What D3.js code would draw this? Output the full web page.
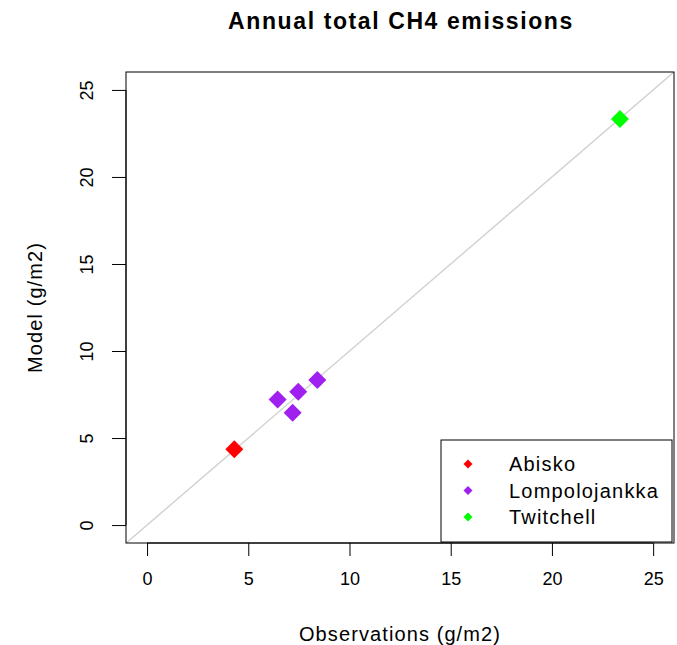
<!DOCTYPE html>
<html>
<head>
<meta charset="utf-8">
<script src="https://cdn.jsdelivr.net/npm/d3@7"></script>
<style>
  body { margin: 0; background: #fff; }
  text { font-family: "Liberation Sans", Arial, sans-serif; fill: #000; }
</style>
</head>
<body>
<div id="chart-holder"></div>
<script>
// site names and colours
var sites = ["Abisko", "Lompolojankka", "Twitchell"];
var siteColors = ["#ff0000", "#a020f0", "#00ff00"];

// annual totals (g/m2): observations vs model, one entry per site-year
var pointSite = ["Abisko", "Lompolojankka", "Lompolojankka", "Lompolojankka", "Lompolojankka", "Twitchell"];
var observed = [4.31, 6.45, 7.47, 8.41, 7.19, 23.36];
var modelled = [4.35, 7.22, 7.66, 8.33, 6.45, 23.33];

var tickValues = [0, 5, 10, 15, 20, 25];

var width = 677, height = 645;
var plotLeft = 126, plotRight = 674, plotTop = 72, plotBottom = 543;

var svg = d3.select("#chart-holder")
  .append("svg")
  .attr('width', width)
  .attr('height', height);

var x = d3.scaleLinear().domain([-1.04, 26.03]).range([plotLeft, plotRight]);
var y = d3.scaleLinear().domain([-1.03, 26.03]).range([plotBottom, plotTop]);
var color = d3.scaleOrdinal().domain(sites).range(siteColors);

// clip for the 1:1 line
svg.append("clipPath").attr("id", "plot-clip")
  .append("rect")
  .attr("x", plotLeft).attr("y", plotTop)
  .attr("width", plotRight - plotLeft).attr("height", plotBottom - plotTop);

// 1:1 line
svg.append("line")
  .attr("clip-path", "url(#plot-clip)")
  .attr("x1", x(-2)).attr("y1", y(-2))
  .attr("x2", x(30)).attr("y2", y(30))
  .attr("stroke", "#d3d3d3")
  .attr("stroke-width", 1.5);

// diamond helper
var diamond = function(r) {
  return "M0," + (-r) + "L" + r + ",0L0," + r + "L" + (-r) + ",0Z";
};

// points
svg.selectAll("path.pt")
  .data(observed)
  .enter()
  .append("path")
  .attr('class', 'pt')
  .attr('d', diamond(9))
  .attr('transform', function(d, i) {
    return "translate(" + x(d) + "," + y(modelled[i]) + ")";
  })
  .attr('fill', function(d, i) { return color(pointSite[i]); });

// plot box
svg.append("rect")
  .attr("x", plotLeft).attr("y", plotTop)
  .attr("width", plotRight - plotLeft).attr("height", plotBottom - plotTop)
  .attr("fill", "none")
  .attr("stroke", "#000")
  .attr("stroke-width", 1);

// x axis
var xAxis = svg.append("g")
  .attr("transform", "translate(0," + plotBottom + ")")
  .call(d3.axisBottom(x).tickValues(tickValues).tickSize(13).tickPadding(16).tickFormat(d3.format("d")));
xAxis.select(".domain").attr("d", "M" + x(0) + ",0H" + x(25));
xAxis.selectAll("text")
  .attr("font-size", "18px")
  .attr("font-family", "Liberation Sans, Arial, sans-serif");

// y axis, labels rotated like R's default las = 0
var yAxis = svg.append("g")
  .attr("transform", "translate(" + plotLeft + ",0)")
  .call(d3.axisLeft(y).tickValues(tickValues).tickSize(14).tickFormat(d3.format("d")));
yAxis.select(".domain").attr("d", "M0," + y(0) + "V" + y(25));
yAxis.selectAll(".tick text")
  .attr("font-size", "18px")
  .attr("font-family", "Liberation Sans, Arial, sans-serif")
  .attr("text-anchor", "middle")
  .attr("x", 0).attr("y", 0).attr("dy", 0)
  .attr("transform", "translate(-33,0) rotate(-90)");

// title and axis labels
svg.append("text")
  .attr("x", 401).attr("y", 29)
  .attr("text-anchor", "middle")
  .style("font-size", "23px").style("font-weight", "bold")
  .style("letter-spacing", "1.6px")
  .text("Annual total CH4 emissions");

svg.append("text")
  .attr("x", 400).attr("y", 641)
  .attr("text-anchor", "middle")
  .style("font-size", "20px")
  .style("letter-spacing", "1.1px")
  .text("Observations (g/m2)");

svg.append("text")
  .attr("transform", "translate(42," + (plotTop + plotBottom) / 2 + ") rotate(-90)")
  .attr("text-anchor", "middle")
  .style("font-size", "20px")
  .style("letter-spacing", "1.1px")
  .text("Model (g/m2)");

// legend
var legend = svg.append("g");
legend.append("rect")
  .attr("x", 441).attr("y", 440)
  .attr("width", 231).attr("height", 102)
  .attr("fill", "#fff").attr("stroke", "#000");

var legendRowY = function(d, i) { return 464 + i * 26.5; };

legend.selectAll("path.key")
  .data(sites)
  .enter()
  .append("path")
  .attr("class", "key")
  .attr("d", diamond(4.5))
  .attr("transform", function(d, i) { return "translate(468," + legendRowY(d, i) + ")"; })
  .attr("fill", function(d) { return color(d); });

legend.selectAll("text.key-label")
  .data(sites)
  .enter()
  .append("text")
  .attr("class", "key-label")
  .attr("x", 509)
  .attr("y", legendRowY)
  .attr("dy", "0.36em")
  .style("font-size", "20px")
  .style("letter-spacing", "1.2px")
  .text(function(d) { return d; });
</script>
</body>
</html>
